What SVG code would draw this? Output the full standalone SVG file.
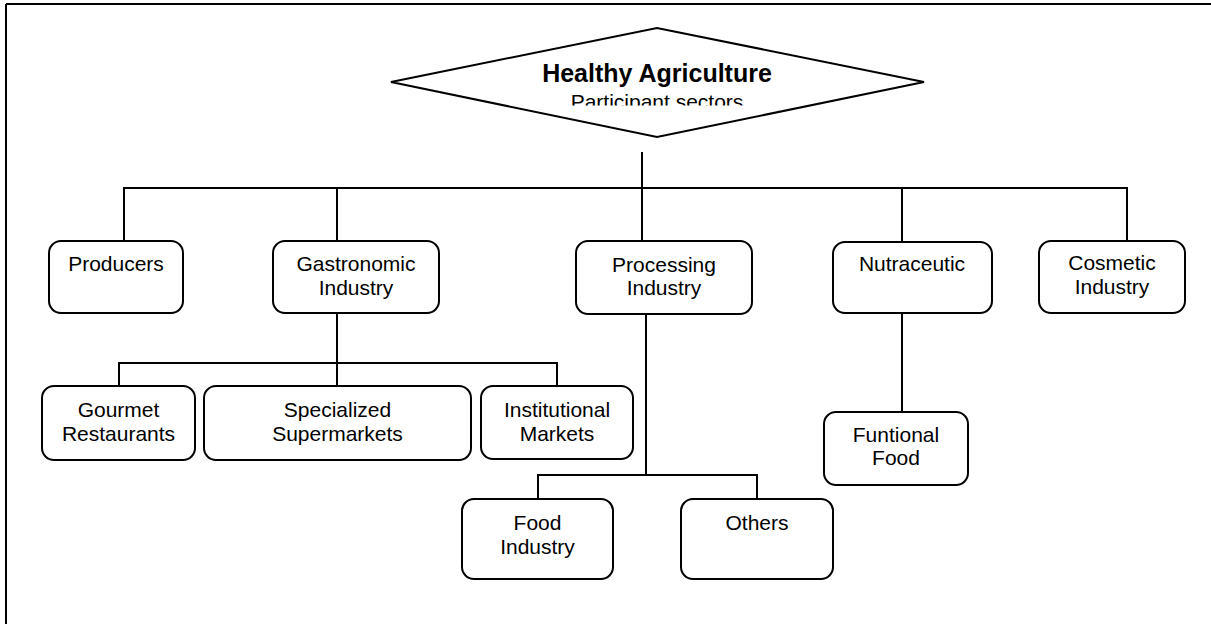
<svg xmlns="http://www.w3.org/2000/svg" width="1211" height="624" viewBox="0 0 1211 624">
  <defs>
    <style>
      .box { fill: #ffffff; stroke: #000000; stroke-width: 2; }
      .ln { fill: none; stroke: #000000; stroke-width: 2; }
      .t { font-family: "Liberation Sans", Arial, sans-serif; font-size: 21px; fill: #000000; text-anchor: middle; }
      .title { font-family: "Liberation Sans", Arial, sans-serif; font-size: 25px; font-weight: bold; fill: #000000; text-anchor: middle; }
    </style>
    <clipPath id="titleClip">
      <rect x="380" y="40" width="560" height="65.5"/>
    </clipPath>
  </defs>
  <rect x="0" y="0" width="1211" height="624" fill="#ffffff"/>
  <g id="frame">
    <line x1="6" y1="4" x2="1211" y2="4" class="ln"/>
    <line x1="6" y1="4" x2="6" y2="624" class="ln"/>
  </g>

  <g id="connectors">
    <polyline class="ln" points="642,152 642,188"/>
    <polyline class="ln" points="124,241 124,188 1127,188 1127,241"/>
    <line class="ln" x1="337" y1="188" x2="337" y2="241"/>
    <line class="ln" x1="642" y1="188" x2="642" y2="241"/>
    <line class="ln" x1="902" y1="188" x2="902" y2="242"/>
    <line class="ln" x1="337" y1="313" x2="337" y2="386"/>
    <polyline class="ln" points="119,386 119,363 557,363 557,386"/>
    <line class="ln" x1="646" y1="314" x2="646" y2="475"/>
    <polyline class="ln" points="538,499 538,475 757,475 757,499"/>
    <line class="ln" x1="902" y1="313" x2="902" y2="414"/>
  </g>

  <g id="root">
    <polygon class="box" points="391,82 657,28 924,82 657,137"/>
    <g clip-path="url(#titleClip)">
      <text class="title" x="657" y="82">Healthy Agriculture</text>
      <text class="t" x="657" y="109">Participant sectors</text>
    </g>
  </g>

  <g id="producers">
    <rect class="box" x="49" y="241" width="134" height="72" rx="12"/>
    <text class="t" x="116" y="271">Producers</text>
  </g>
  <g id="gastronomic">
    <rect class="box" x="273" y="241" width="166" height="72" rx="12"/>
    <text class="t" x="356" y="271">Gastronomic</text>
    <text class="t" x="356" y="295">Industry</text>
  </g>
  <g id="processing">
    <rect class="box" x="576" y="241" width="176" height="73" rx="12"/>
    <text class="t" x="664" y="272">Processing</text>
    <text class="t" x="664" y="295">Industry</text>
  </g>
  <g id="nutraceutic">
    <rect class="box" x="833" y="242" width="159" height="71" rx="12"/>
    <text class="t" x="912" y="271">Nutraceutic</text>
  </g>
  <g id="cosmetic">
    <rect class="box" x="1039" y="241" width="146" height="72" rx="12"/>
    <text class="t" x="1112" y="270">Cosmetic</text>
    <text class="t" x="1112" y="294">Industry</text>
  </g>
  <g id="gourmet">
    <rect class="box" x="42" y="386" width="153" height="74" rx="12"/>
    <text class="t" x="118.5" y="417">Gourmet</text>
    <text class="t" x="118.5" y="441">Restaurants</text>
  </g>
  <g id="specialized">
    <rect class="box" x="204" y="386" width="267" height="74" rx="12"/>
    <text class="t" x="337.5" y="417">Specialized</text>
    <text class="t" x="337.5" y="441">Supermarkets</text>
  </g>
  <g id="institutional">
    <rect class="box" x="481" y="386" width="152" height="73" rx="12"/>
    <text class="t" x="557" y="417">Institutional</text>
    <text class="t" x="557" y="441">Markets</text>
  </g>
  <g id="food-industry">
    <rect class="box" x="462" y="499" width="151" height="80" rx="12"/>
    <text class="t" x="537.5" y="530">Food</text>
    <text class="t" x="537.5" y="554">Industry</text>
  </g>
  <g id="others">
    <rect class="box" x="681" y="499" width="152" height="80" rx="12"/>
    <text class="t" x="757" y="530">Others</text>
  </g>
  <g id="functional-food">
    <rect class="box" x="824" y="412" width="144" height="73" rx="12"/>
    <text class="t" x="896" y="442">Funtional</text>
    <text class="t" x="896" y="465">Food</text>
  </g>
</svg>
